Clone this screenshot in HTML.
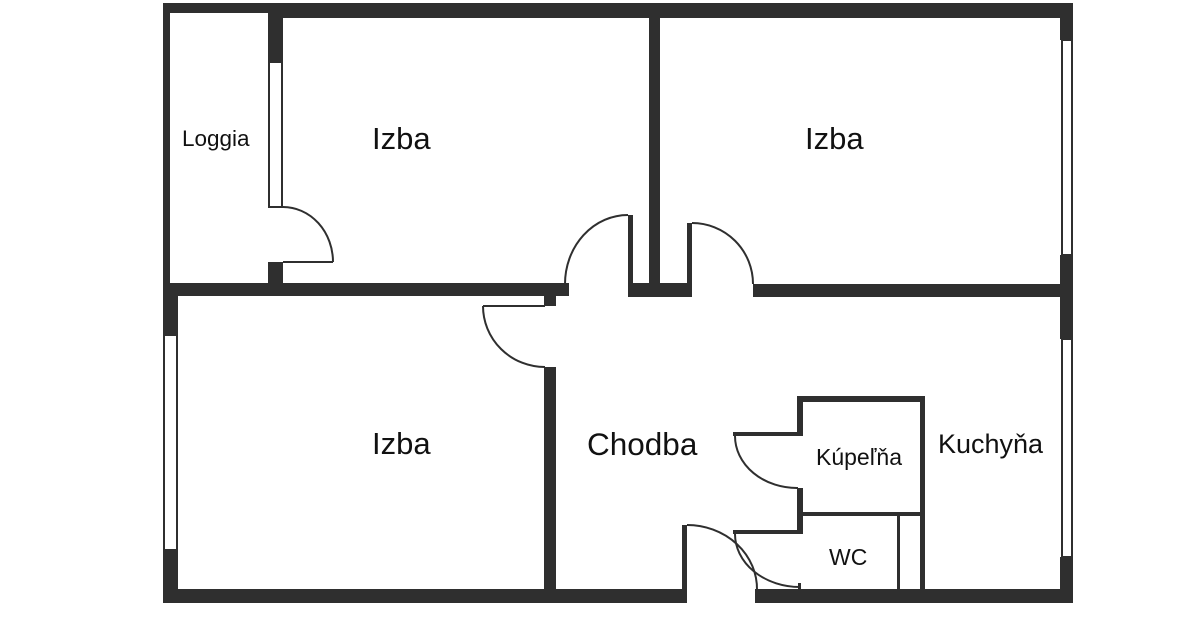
<!DOCTYPE html>
<html><head><meta charset="utf-8"><style>
html,body{margin:0;padding:0;background:#fff;}
svg{display:block;}
text{font-family:"Liberation Sans",Arial,sans-serif;fill:#111;}
</style></head><body>
<svg width="1200" height="630" viewBox="0 0 1200 630" xmlns="http://www.w3.org/2000/svg">
<rect width="1200" height="630" fill="#fff"/>
<g fill="#2f2f2f">
<!-- loggia walls -->
<rect x="163" y="3" width="106" height="10"/>
<rect x="163" y="3" width="7" height="292"/>
<rect x="163" y="283" width="120" height="13"/>
<!-- top wall -->
<rect x="268" y="3" width="805" height="15"/>
<!-- loggia/izba wall -->
<rect x="268" y="3" width="15" height="59"/>
<rect x="268" y="262" width="15" height="34"/>
<!-- horizontal middle wall -->
<rect x="163" y="283" width="406" height="13"/>
<rect x="628" y="283" width="62" height="14"/>
<rect x="628" y="215" width="5" height="82"/>
<rect x="649" y="3" width="11" height="294"/>
<rect x="687" y="223" width="5" height="74"/>
<rect x="753" y="284" width="320" height="13"/>
<!-- right wall -->
<rect x="1060" y="3" width="13" height="37"/>
<rect x="1060" y="255" width="13" height="84"/>
<rect x="1060" y="557" width="13" height="46"/>
<!-- lower left wall -->
<rect x="163" y="295" width="15" height="40"/>
<rect x="163" y="550" width="15" height="53"/>
<!-- bottom wall -->
<rect x="163" y="589" width="524" height="14"/>
<rect x="755" y="589" width="318" height="14"/>
<!-- chodba left wall -->
<rect x="544" y="296" width="12" height="10"/>
<rect x="544" y="367" width="12" height="223"/>
<!-- entrance stub -->
<rect x="682" y="525" width="5" height="65"/>
<!-- bathroom -->
<rect x="797" y="396" width="128" height="6"/>
<rect x="797" y="396" width="6" height="40"/>
<rect x="733" y="432" width="70" height="4"/>
<rect x="797" y="488" width="6" height="46"/>
<rect x="733" y="530" width="70" height="4"/>
<rect x="920" y="396" width="5" height="194"/>
<rect x="803" y="512" width="117" height="4"/>
<rect x="897" y="516" width="3" height="74"/>
<rect x="798" y="583" width="3" height="7"/>
</g>
<!-- windows -->
<g fill="#fff" stroke="#2f2f2f" stroke-width="2">
<rect x="269" y="62" width="13" height="145"/>
<rect x="1062" y="40" width="10" height="215"/>
<rect x="1062" y="339" width="10" height="218"/>
<rect x="164" y="335" width="13" height="215"/>
</g>
<!-- doors -->
<g fill="none" stroke="#2f2f2f" stroke-width="2">
<line x1="283" y1="262" x2="333" y2="262"/>
<path d="M283 207 A50 55 0 0 1 333 262"/>
<path d="M565 284 A63 69 0 0 1 628 215"/>
<path d="M692 223 A61 61 0 0 1 753 284"/>
<line x1="483" y1="306" x2="545" y2="306"/>
<path d="M483 306 A62 61 0 0 0 545 367"/>
<path d="M687 525 A70 64 0 0 1 757 590"/>
<path d="M735 436 A62 52 0 0 0 798 488"/>
<path d="M735 534 A65 53 0 0 0 800 587"/>
</g>
<!-- labels -->
<text x="182" y="146" font-size="22.5">Loggia</text>
<text x="372" y="149" font-size="31">Izba</text>
<text x="805" y="149" font-size="31">Izba</text>
<text x="372" y="454" font-size="31">Izba</text>
<text x="587" y="455" font-size="31.5">Chodba</text>
<text x="938" y="453" font-size="27">Kuchyňa</text>
<text x="816" y="465" font-size="23">Kúpeľňa</text>
<text x="829" y="565" font-size="23">WC</text>
</svg>
</body></html>
